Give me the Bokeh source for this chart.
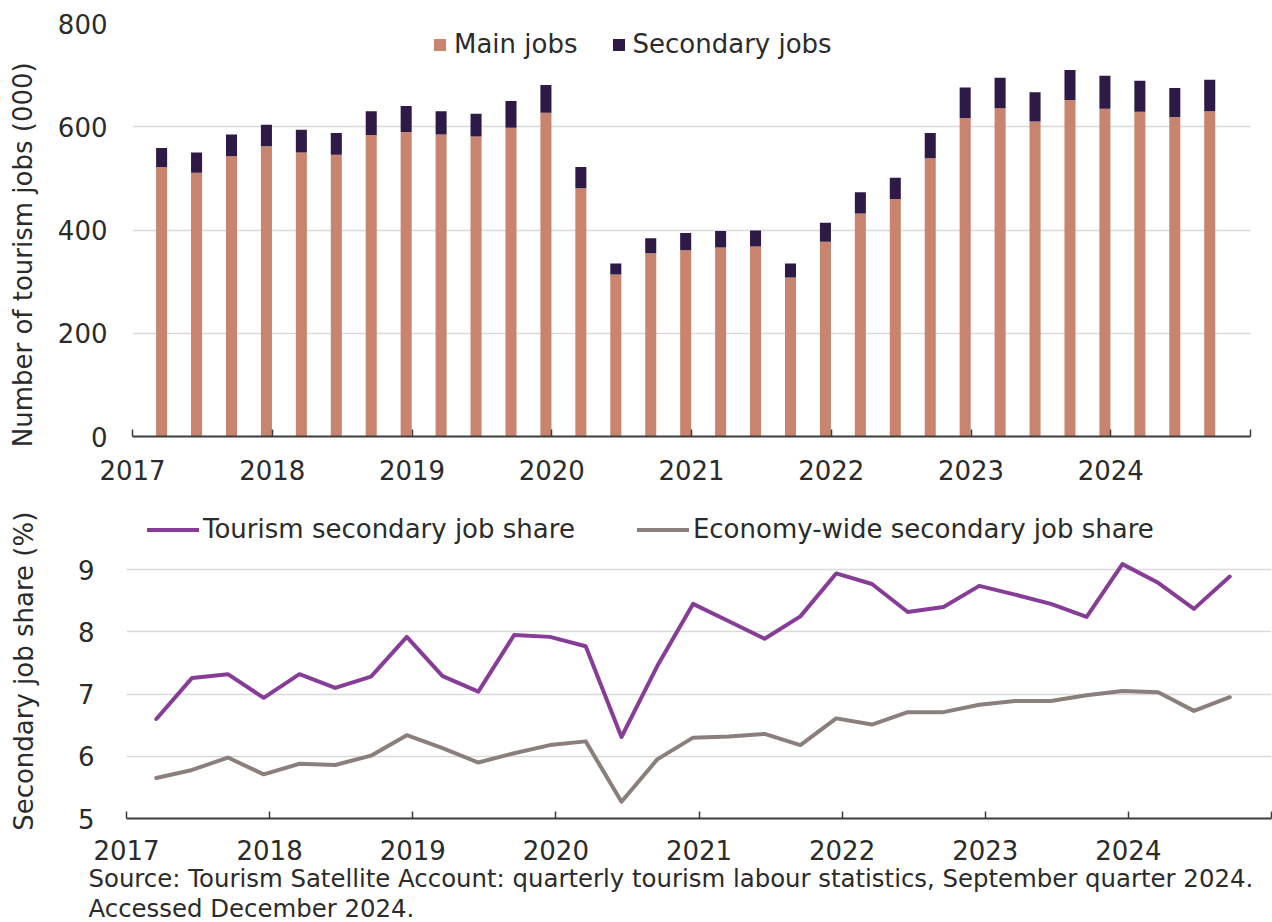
import math
from bokeh.plotting import figure
from bokeh.models import (ColumnDataSource, FixedTicker, Legend, LegendItem, Title,
                          Range1d, LinearAxis)
from bokeh.embed import file_html
from bokeh.resources import INLINE

# ---------------- data ----------------
quarters = [
    "Mar 2017", "Jun 2017", "Sep 2017", "Dec 2017",
    "Mar 2018", "Jun 2018", "Sep 2018", "Dec 2018",
    "Mar 2019", "Jun 2019", "Sep 2019", "Dec 2019",
    "Mar 2020", "Jun 2020", "Sep 2020", "Dec 2020",
    "Mar 2021", "Jun 2021", "Sep 2021", "Dec 2021",
    "Mar 2022", "Jun 2022", "Sep 2022", "Dec 2022",
    "Mar 2023", "Jun 2023", "Sep 2023", "Dec 2023",
    "Mar 2024", "Jun 2024", "Sep 2024",
]
main_jobs = [522, 511, 543, 562, 550, 546, 584, 590, 585, 581, 598, 627,
             481, 314, 355, 361, 366, 368, 308, 377, 432, 460, 539, 617,
             636, 610, 652, 635, 629, 619, 630]
secondary_jobs = [37, 39, 42, 42, 44, 42, 46, 50, 45, 44, 52, 54,
                  41, 21, 29, 33, 32, 31, 27, 37, 41, 41, 49, 59,
                  59, 57, 58, 64, 60, 56, 61]
tourism_share = [6.60, 7.26, 7.32, 6.94, 7.32, 7.10, 7.28, 7.92, 7.29, 7.04, 7.95, 7.92,
                 7.77, 6.31, 7.45, 8.45, 8.17, 7.89, 8.25, 8.94, 8.77, 8.32, 8.40, 8.74,
                 8.60, 8.45, 8.24, 9.09, 8.79, 8.37, 8.89]
economy_share = [5.65, 5.78, 5.98, 5.71, 5.88, 5.86, 6.01, 6.34, 6.13, 5.90, 6.05, 6.18,
                 6.24, 5.27, 5.95, 6.30, 6.32, 6.36, 6.18, 6.61, 6.51, 6.71, 6.71, 6.83,
                 6.89, 6.89, 6.98, 7.05, 7.03, 6.73, 6.95]
year_ticks = [2017, 2018, 2019, 2020, 2021, 2022, 2023, 2024, 2025]
year_labels = ["2017", "2018", "2019", "2020", "2021", "2022", "2023", "2024", ""]
jobs_ticks = [0, 200, 400, 600, 800]
share_ticks = [5, 6, 7, 8, 9]

MONTHS = {"Mar": 3, "Jun": 6, "Sep": 9, "Dec": 12}
xpos = [int(q.split()[1]) + (MONTHS[q.split()[0]] - 0.5) / 12 for q in quarters]

FONT = "DejaVu Sans"
FS = "26px"
TXT = "#2b2b2b"
C_MAIN = "#C8846F"
C_SEC = "#2E1A46"
C_TOUR = "#873D98"
C_ECON = "#8A7F7B"
GRID = "#D9D9D9"
AXIS = "#3c3c3c"
NBSP = "\u00a0"

src = ColumnDataSource(dict(x=xpos, quarter=quarters, main=main_jobs,
                            secondary=secondary_jobs, tour=tourism_share,
                            econ=economy_share))


def style(p, yticks):
    p.outline_line_color = None
    p.xgrid.grid_line_color = None
    p.ygrid.grid_line_color = GRID
    p.ygrid.grid_line_width = 1.5
    p.ygrid.ticker = FixedTicker(ticks=yticks[1:])
    p.xaxis.ticker = FixedTicker(ticks=year_ticks)
    p.xaxis.major_label_overrides = {t: l for t, l in zip(year_ticks, year_labels)}
    p.xaxis.axis_line_color = AXIS
    p.xaxis.axis_line_width = 2
    p.xaxis.major_tick_line_color = AXIS
    p.xaxis.major_tick_line_width = 1.5
    p.xaxis.major_tick_in = 7
    p.xaxis.major_tick_out = 0
    p.xaxis.minor_tick_line_color = None
    p.xaxis.major_label_text_font = FONT
    p.xaxis.major_label_text_font_size = FS
    p.xaxis.major_label_text_color = TXT
    p.yaxis.ticker = FixedTicker(ticks=yticks)
    p.yaxis.axis_line_color = None
    p.yaxis.major_tick_line_color = None
    p.yaxis.minor_tick_line_color = None
    p.yaxis.major_label_text_font = FONT
    p.yaxis.major_label_text_font_size = FS
    p.yaxis.major_label_text_color = TXT


def title_axis(text, pad, standoff):
    # an extra, tick-less left axis that only carries the y-axis title;
    # trailing no-break spaces shift the visible title down a little
    return LinearAxis(ticker=FixedTicker(ticks=[]),
                      axis_line_color=None, major_tick_line_color=None,
                      minor_tick_line_color=None, axis_label=text + NBSP * pad,
                      axis_label_standoff=standoff, axis_label_text_font=FONT,
                      axis_label_text_font_size=FS, axis_label_text_font_style="normal",
                      axis_label_text_color=TXT)


# ---------------- top chart ----------------
p1 = figure(frame_width=1118, frame_height=413, min_border_left=132, min_border_right=22,
            min_border_top=23, min_border_bottom=54,
            x_range=Range1d(2017, 2025), y_range=Range1d(0, 800),
            output_backend="svg", toolbar_location=None)
style(p1, jobs_ticks)
p1.yaxis.major_label_standoff = 19
p1.xaxis.major_label_standoff = 23
r = p1.vbar_stack(["main", "secondary"], x="x", width=0.079, color=[C_MAIN, C_SEC],
                  line_color=None, source=src)
leg1 = Legend(items=[LegendItem(label="Main jobs", renderers=[r[0]]),
                     LegendItem(label="Secondary jobs", renderers=[r[1]])],
              orientation="horizontal", location=(300, 377), padding=0, margin=0,
              spacing=33, glyph_width=15, glyph_height=15, label_standoff=7,
              label_text_font=FONT, label_text_font_size=FS, label_text_color=TXT,
              background_fill_alpha=0, border_line_alpha=0)
p1.add_layout(leg1)
p1.add_layout(title_axis("Number of tourism jobs (000)", 6, 17), "left")

# ---------------- bottom chart ----------------
p2 = figure(frame_width=1145, frame_height=311, min_border_left=126, min_border_right=1,
            min_border_top=17, min_border_bottom=104,
            x_range=Range1d(2017, 2025), y_range=Range1d(5, 10),
            output_backend="svg", toolbar_location=None)
style(p2, share_ticks)
p2.yaxis.major_label_standoff = 26
p2.xaxis.major_label_standoff = 21
l1 = p2.line("x", "tour", source=src, line_color=C_TOUR, line_width=4,
             line_join="round", line_cap="round")
l2 = p2.line("x", "econ", source=src, line_color=C_ECON, line_width=4,
             line_join="round", line_cap="round")
leg2 = Legend(items=[LegendItem(label="Tourism secondary job share", renderers=[l1]),
                     LegendItem(label="Economy-wide secondary job share", renderers=[l2])],
              orientation="horizontal", location=(21, 274), padding=0, margin=0,
              spacing=62, glyph_width=52, glyph_height=15, label_standoff=4,
              label_text_font=FONT, label_text_font_size=FS, label_text_color=TXT,
              background_fill_alpha=0, border_line_alpha=0)
p2.add_layout(leg2)
p2.add_layout(title_axis("Secondary job share (%)", 2, 36), "left")
source_lines = ["Source: Tourism Satellite Account: quarterly tourism labour statistics, September quarter 2024.",
                "Accessed December 2024."]
for line, so in zip(source_lines, [-1, -2]):
    p2.add_layout(Title(text=line, align="left", offset=-38, standoff=so,
                        text_font=FONT, text_font_size="24.4px", text_font_style="normal",
                        text_color=TXT), "below")

open("out.html", "w").write(file_html([p1, p2], INLINE))
